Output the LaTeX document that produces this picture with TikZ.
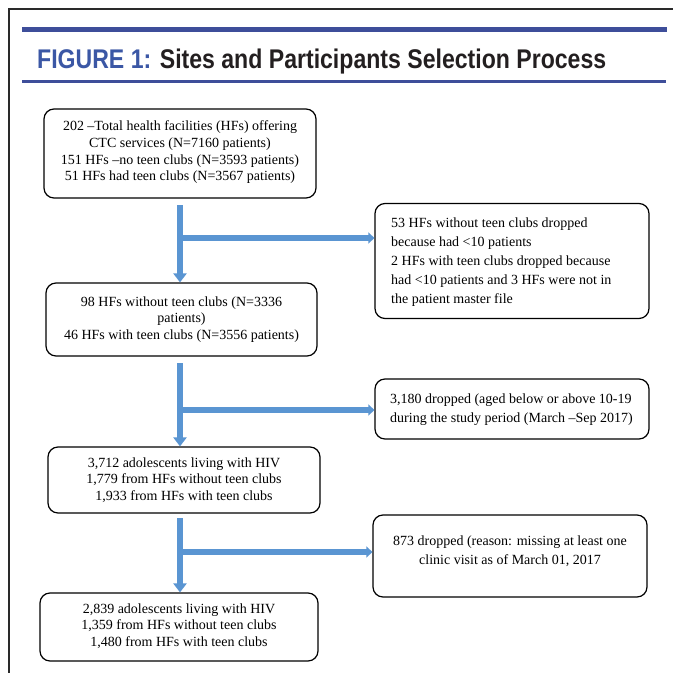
\documentclass[tikz,border=0pt]{standalone}
\usepackage{fontspec}
\setmainfont{Liberation Serif}
\newfontfamily\titlefont{Liberation Sans}
\usetikzlibrary{arrows.meta}
\definecolor{barblue}{HTML}{3E4E9A}
\definecolor{titleblue}{HTML}{3B57A5}
\definecolor{titleblack}{HTML}{231F20}
\definecolor{arrowblue}{HTML}{5A95D2}
\definecolor{framegray}{HTML}{2A2A2A}
\begin{document}
\begin{tikzpicture}[x=1pt,y=-1pt,
  box/.style={draw, rounded corners=10pt, line width=1.2pt, inner sep=0pt},
  boxtext/.style={font=\fontsize{14}{16.7}\selectfont, align=center, inner sep=0pt},
  sidetext/.style={font=\fontsize{14}{19}\selectfont, inner sep=0pt},
  vbluearrow/.style={draw=arrowblue, line width=6pt, -{Triangle[length=9pt,width=13pt]}},
  hbluearrow/.style={draw=arrowblue, line width=6pt, -{Triangle[length=6pt,width=11pt]}}]
\useasboundingbox (0,0) rectangle (673,673);
\fill[white] (0,0) rectangle (673,673);
% frame
\draw[framegray, line width=2pt] (673,8.5) -- (9,8.5) -- (9,673);
% title bars
\fill[barblue] (22,27) rectangle (667,32);
\fill[barblue] (22,80) rectangle (666,82.5);
\node[anchor=base west, inner sep=0pt] (title) at (37,68)
  {\resizebox{569pt}{\height}{\titlefont\fontsize{27}{27}\selectfont\bfseries
   \textcolor{titleblue}{FIGURE 1:} \textcolor{titleblack}{Sites and Participants Selection Process}}};
% left boxes
\node[box, minimum width=272pt, minimum height=89pt] (lb1) at (180,153.5) {};
\node[boxtext] (lb1t) at (180,152.5) {202 --Total health facilities (HFs) offering\\CTC services (N=7160 patients)\\151 HFs --no teen clubs (N=3593 patients)\\51 HFs had teen clubs (N=3567 patients)};
\node[box, minimum width=271pt, minimum height=73pt] (lb2) at (181.5,319.5) {};
\node[boxtext] (lb2t) at (181.5,319.5) {98 HFs without teen clubs (N=3336\\patients)\\46 HFs with teen clubs (N=3556 patients)};
\node[box, minimum width=272pt, minimum height=66pt] (lb3) at (184,480) {};
\node[boxtext] (lb3t) at (184,480) {3,712 adolescents living with HIV\\1,779 from HFs without teen clubs\\1,933 from HFs with teen clubs};
\node[box, minimum width=278pt, minimum height=68pt] (lb4) at (179,627) {};
\node[boxtext] (lb4t) at (179,626) {2,839 adolescents living with HIV\\1,359 from HFs without teen clubs\\1,480 from HFs with teen clubs};
% right boxes
\node[box, minimum width=274pt, minimum height=115pt] (rb1) at (512,261) {};
\node[sidetext, anchor=west, align=left] (rb1t) at (391,262) {53 HFs without teen clubs dropped\\because had <10 patients\\2 HFs with teen clubs dropped because\\had <10 patients and 3 HFs were not in\\the patient master file};
\node[box, minimum width=274pt, minimum height=60pt] (rb2) at (512,409) {};
\node[sidetext, anchor=west, align=left] (rb2t) at (390,410) {3,180 dropped (aged below or above 10-19\\during the study period (March --Sep 2017)};
\node[box, minimum width=274pt, minimum height=82pt] (rb3) at (510,556) {};
\node[sidetext, align=center] (rb3t) at (510,551) {873 dropped (reason: missing at least one\\clinic visit as of March 01, 2017};
% arrows
\coordinate (v1) at (180,205);
\coordinate (h1) at (180,238);
\draw[vbluearrow] (v1) -- (v1 |- lb2.north);
\draw[hbluearrow] (h1) -- (h1 -| rb1.west);
\coordinate (v2) at (180,363);
\coordinate (h2) at (180,410);
\draw[vbluearrow] (v2) -- (v2 |- lb3.north);
\draw[hbluearrow] (h2) -- (h2 -| rb2.west);
\coordinate (v3) at (180,518);
\coordinate (h3) at (180,552);
\draw[vbluearrow] (v3) -- (v3 |- lb4.north);
\draw[hbluearrow] (h3) -- (h3 -| rb3.west);
\end{tikzpicture}
\end{document}
